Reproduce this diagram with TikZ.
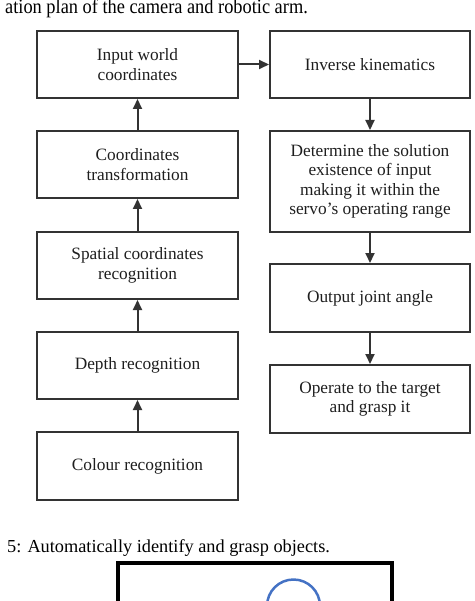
\documentclass[tikz,border=0pt]{standalone}
\usepackage{fontspec}
\setmainfont{Liberation Serif}
\usetikzlibrary{arrows.meta}
\definecolor{boxline}{HTML}{333333}
\definecolor{txt}{HTML}{1E1E1E}
\definecolor{circblue}{RGB}{68,114,196}
\tikzset{
  flowbox/.style={draw=boxline, line width=2pt, inner sep=0pt, align=center,
    text=txt, font=\fontsize{17.3}{19.5}\selectfont},
  lbox/.style={flowbox, minimum width=201pt},
  rbox/.style={flowbox, minimum width=200pt},
  flowarrow/.style={draw=boxline, line width=2pt, -{Triangle[length=10pt,width=9pt]}},
  captext/.style={inner sep=0pt, anchor=base west, text=black}
}
\begin{document}
\begin{tikzpicture}[x=1pt,y=-1pt]
\useasboundingbox (0,0) rectangle (474,601);
\begin{scope}
\clip (0,0) rectangle (474,601);
% captions
\node[captext, font=\fontsize{20.5}{24}\selectfont] (capt) at (5,14) {\scalebox{0.895}[1]{ation plan of the camera and robotic arm.}};
\node[captext, font=\fontsize{18.3}{22}\selectfont] (capb) at (7,552) {5: Automatically identify and grasp objects.};
% left column
\node[lbox, minimum height=67pt] (L1) at (137.5,64.5) {Input world\\coordinates};
\node[lbox, minimum height=67pt] (L2) at (137.5,164.5) {Coordinates\\transformation};
\node[lbox, minimum height=67pt] (L3) at (137.5,265.5) {Spatial coordinates\\recognition};
\node[lbox, minimum height=67pt] (L4) at (137.5,365.5) {Depth recognition};
\node[lbox, minimum height=68pt] (L5) at (137.5,466) {Colour recognition};
% right column
\node[rbox, minimum height=67pt] (R1) at (370,64.5) {Inverse kinematics};
\node[rbox, minimum height=101pt] (R2) at (370,181.5) {Determine the solution\\existence of input\\making it within the\\servo's operating range};
\node[rbox, minimum height=68pt] (R3) at (370,298) {Output joint angle};
\node[rbox, minimum height=68pt] (R4) at (370,399) {Operate to the target\\and grasp it};
% arrows
\draw[flowarrow] (L5.north) -- (L4.south);
\draw[flowarrow] (L4.north) -- (L3.south);
\draw[flowarrow] (L3.north) -- (L2.south);
\draw[flowarrow] (L2.north) -- (L1.south);
\draw[flowarrow] (L1.east) -- (R1.west);
\draw[flowarrow] (R1.south) -- (R2.north);
\draw[flowarrow] (R2.south) -- (R3.north);
\draw[flowarrow] (R3.south) -- (R4.north);
% next figure, cut off
\coordinate (nbl) at (118,620);
\coordinate (nbr) at (392,620);
\draw[line width=3.5pt, black] (nbl) -- (118,563) -- (392,563) -- (nbr);
\node[draw=circblue, line width=2.5pt, circle, minimum size=53pt, inner sep=0pt] (circ) at (293.5,606) {};
\end{scope}
\end{tikzpicture}
\end{document}
